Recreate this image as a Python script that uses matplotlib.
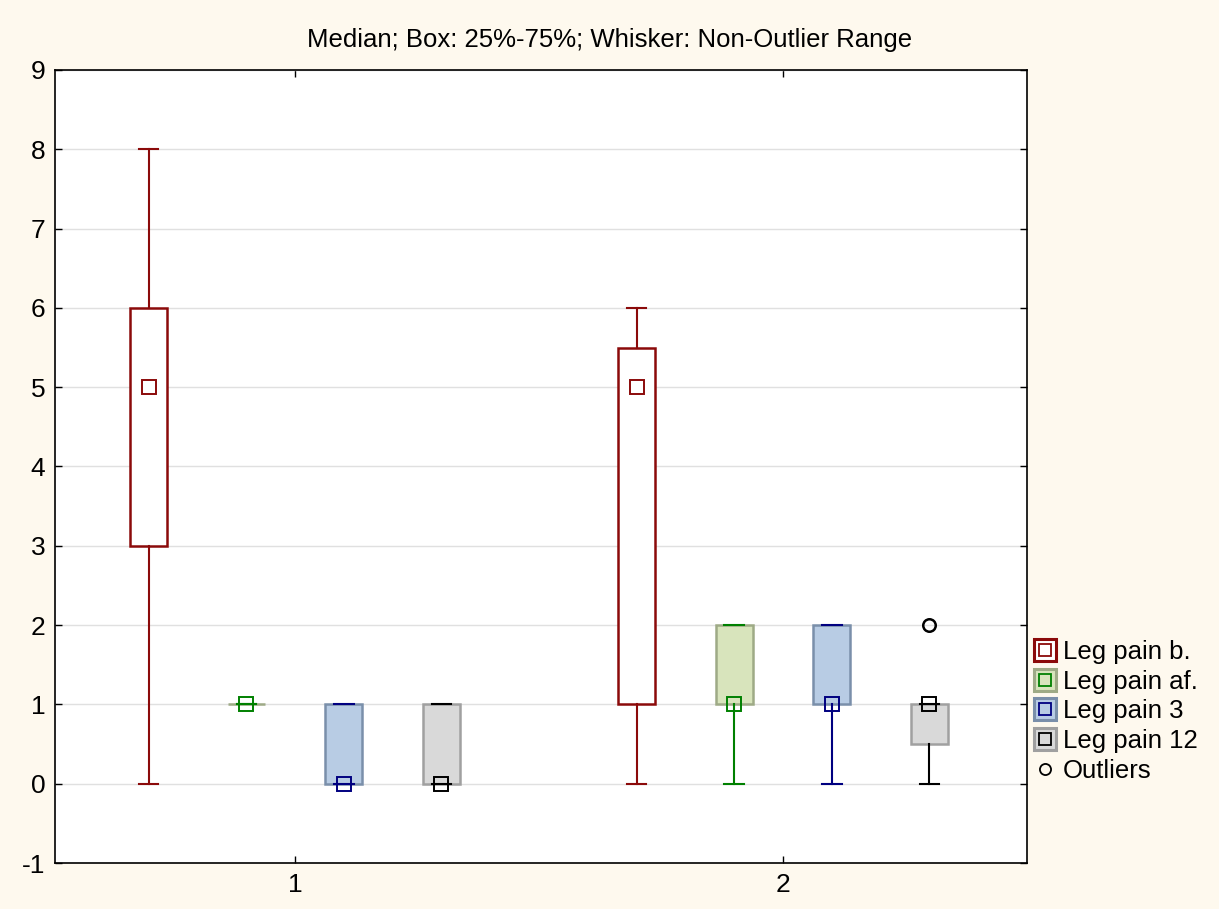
import matplotlib
matplotlib.use("Agg")
import matplotlib.pyplot as plt
from matplotlib.lines import Line2D

plt.rcParams["font.family"] = ["Liberation Sans", "DejaVu Sans"]
plt.rcParams["axes.unicode_minus"] = False

# data
groups = [1, 2]
series = ["Leg pain b.", "Leg pain af.", "Leg pain 3", "Leg pain 12"]
medians = [[5, 1, 0, 0], [5, 1, 1, 1]]
q1 = [[3, 1, 0, 0], [1, 1, 1, 0.5]]
q3 = [[6, 1, 1, 1], [5.5, 2, 2, 1]]
whis_lo = [[0, 1, 0, 0], [0, 0, 0, 0]]
whis_hi = [[8, 1, 1, 1], [6, 2, 2, 1]]
outliers = [[[], [], [], []], [[], [], [], [2]]]

offsets = [-0.3, -0.1, 0.1, 0.3]
faces = ["white", "#D8E4BC", "#B8CCE4", "#D9D9D9"]
edges = ["#8B0A0A", "#9EAA86", "#7A8FAA", "#A0A0A0"]
lines = ["#8B0A0A", "#008000", "#000080", "#000000"]

fig = plt.figure(figsize=(12.19, 9.09), dpi=100)
fig.patch.set_facecolor("#FEF9EE")
ax = fig.add_axes([0.0451, 0.0506, 0.7974, 0.8724])
ax.set_facecolor("white")

for gi, g in enumerate(groups):
    for si in range(len(series)):
        pos = g + offsets[si]
        stat = dict(med=medians[gi][si], q1=q1[gi][si], q3=q3[gi][si],
                    whislo=whis_lo[gi][si], whishi=whis_hi[gi][si], fliers=[])
        ax.bxp([stat], positions=[pos], widths=0.076, capwidths=0.04,
               patch_artist=True, showfliers=False,
               boxprops=dict(facecolor=faces[si], edgecolor=edges[si], linewidth=1.8),
               whiskerprops=dict(color=lines[si], linewidth=1.5),
               capprops=dict(color=lines[si], linewidth=1.5),
               medianprops=dict(linestyle="none"), zorder=3)
        ax.plot([pos], [medians[gi][si]], marker="s", markersize=9.5,
                markerfacecolor="none", markeredgecolor=lines[si],
                markeredgewidth=1.4, linestyle="none", zorder=4)
        if outliers[gi][si]:
            ax.plot([pos] * len(outliers[gi][si]), outliers[gi][si], marker="o",
                    markersize=9, markerfacecolor="none", markeredgecolor="black",
                    markeredgewidth=1.8, linestyle="none", zorder=4)

ax.set_xlim(0.508, 2.5)
ax.set_ylim(-1, 9)
ax.set_xticks(groups)
ax.set_xticklabels([str(g) for g in groups])
ax.set_yticks(range(-1, 10))
ax.yaxis.grid(True, color="#E0E0E0", linewidth=1.0)
ax.set_axisbelow(True)
ax.tick_params(direction="in", top=True, right=True, labelsize=19, length=5,
               width=1.0, pad=7)
for sp in ax.spines.values():
    sp.set_linewidth(1.2)
    sp.set_color("black")

fig.text(0.5, 1 - 40 / 909, "Median; Box: 25%-75%; Whisker: Non-Outlier Range",
         fontsize=18.5, ha="center", va="center")

handles = []
for si in range(len(series)):
    big = Line2D([], [], marker="s", markersize=16, markerfacecolor=faces[si],
                 markeredgecolor=edges[si] if si else lines[si], markeredgewidth=2.2,
                 linestyle="none")
    small = Line2D([], [], marker="s", markersize=8, markerfacecolor="none",
                   markeredgecolor=lines[si], markeredgewidth=1.3, linestyle="none")
    handles.append((big, small))
handles.append(Line2D([], [], marker="o", markersize=8, markerfacecolor="none",
                      markeredgecolor="black", markeredgewidth=1.3, linestyle="none"))
labels = series + ["Outliers"]
fig.legend(handles, labels, loc="upper left", bbox_to_anchor=(0.8485, 0.296),
           frameon=False, fontsize=18.5, handlelength=0.8, handletextpad=0.3,
           labelspacing=0.22, borderaxespad=0, borderpad=0)

fig.savefig("out.png", facecolor=fig.get_facecolor())
